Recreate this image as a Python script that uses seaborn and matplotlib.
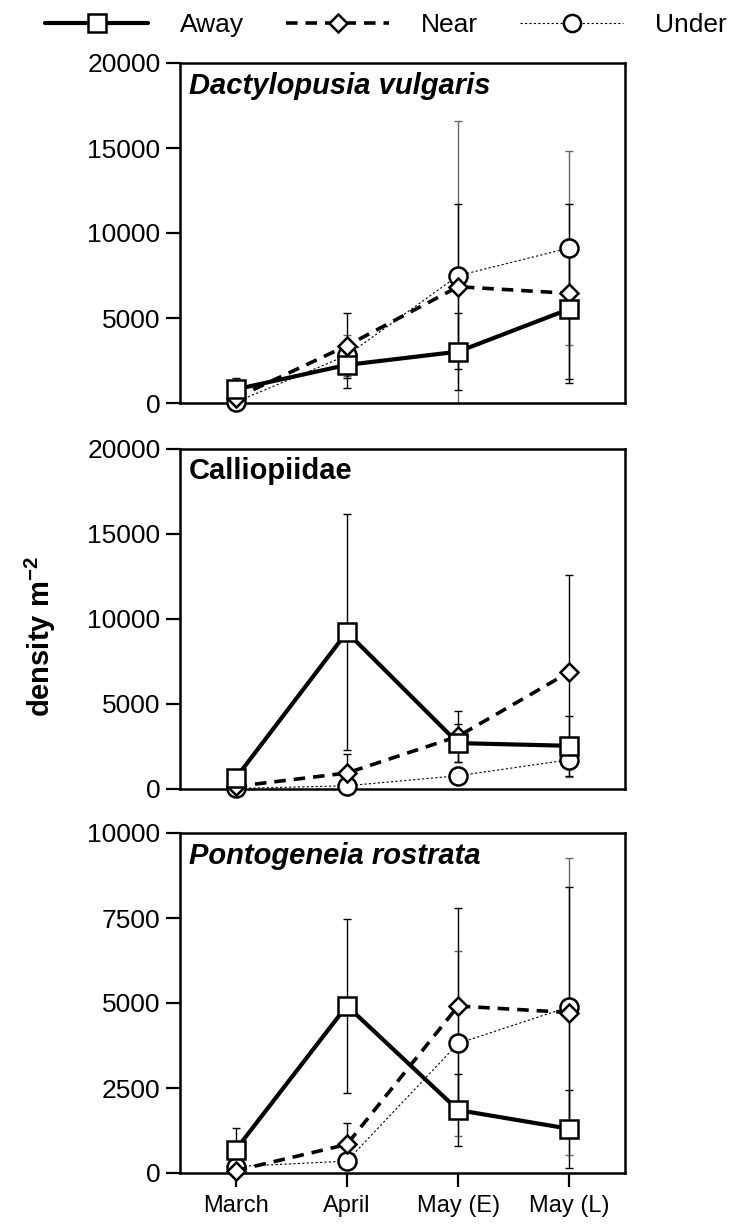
import numpy as np
import pandas as pd
import matplotlib
matplotlib.use("Agg")
import matplotlib.pyplot as plt
import seaborn as sns

## DATA (means and standard errors)
months = ["March", "April", "May (E)", "May (L)"]
treatments = ["Away", "Near", "Under"]

dact_away = [800, 2240, 3020, 5530]
dact_away_se = [650, 1370, 2250, 4100]
dact_near = [300, 3370, 6840, 6450]
dact_near_se = [200, 1900, 4860, 5250]
dact_under = [50, 2800, 7490, 9120]
dact_under_se = [50, 1200, 9080, 5720]

call_away = [630, 9230, 2700, 2540]
call_away_se = [300, 6960, 1100, 1760]
call_near = [150, 940, 3100, 6880]
call_near_se = [100, 1100, 1500, 5700]
call_under = [30, 190, 780, 1720]
call_under_se = [30, 150, 500, 1030]

pont_away = [680, 4920, 1850, 1300]
pont_away_se = [650, 2560, 1060, 1140]
pont_near = [70, 840, 4910, 4720]
pont_near_se = [60, 640, 2870, 3700]
pont_under = [190, 350, 3810, 4890]
pont_under_se = [100, 200, 2730, 4370]

taxa = ["Dactylopusia vulgaris", "Calliopiidae", "Pontogeneia rostrata"]
italic = [True, False, True]
yticks = [[0, 5000, 10000, 15000, 20000],
          [0, 5000, 10000, 15000, 20000],
          [0, 2500, 5000, 7500, 10000]]

panels = [
    {"Away": (dact_away, dact_away_se), "Near": (dact_near, dact_near_se), "Under": (dact_under, dact_under_se)},
    {"Away": (call_away, call_away_se), "Near": (call_near, call_near_se), "Under": (call_under, call_under_se)},
    {"Away": (pont_away, pont_away_se), "Near": (pont_near, pont_near_se), "Under": (pont_under, pont_under_se)},
]

## STYLE
sns.set_style("ticks")
plt.rcParams["font.family"] = ["Liberation Sans", "DejaVu Sans"]
plt.rcParams["mathtext.fontset"] = "custom"
plt.rcParams["mathtext.rm"] = "Liberation Sans"
plt.rcParams["mathtext.bf"] = "Liberation Sans:bold"
for k in ["text.color", "axes.labelcolor", "xtick.color", "ytick.color", "axes.edgecolor"]:
    plt.rcParams[k] = "black"

styles = {
    "Away": dict(lw=3.0, ls="-", marker="s", ms=13, zorder=5),
    "Near": dict(lw=2.6, ls=(0, (3.2, 2.2)), marker="D", ms=9.5, zorder=4),
    "Under": dict(lw=0.8, ls=(0, (2, 2)), marker="o", ms=13, zorder=3),
}
ecolors = {"Away": "black", "Near": "black", "Under": "#666666"}

fig = plt.figure(figsize=(7.43, 12.26), dpi=100)
left, width = 180 / 743, 445 / 743
tops = [63, 449, 833]
height = 340 / 1226
axes = [fig.add_axes([left, 1 - (t + 340) / 1226, width, height]) for t in tops]

x = np.arange(len(months))
for i, ax in enumerate(axes):
    rows = []
    for t in treatments:
        vals, se = panels[i][t]
        for m, v, s in zip(x, vals, se):
            rows.append({"pos": m, "treatment": t, "density": v, "se": s})
    df = pd.DataFrame(rows)

    for t in ["Under", "Near", "Away"]:
        d = df[df.treatment == t]
        ax.errorbar(d.pos, d.density, yerr=d.se, fmt="none", ecolor=ecolors[t],
                    elinewidth=1.0, capsize=3, capthick=1.0, zorder=1)
        st = styles[t]
        sns.lineplot(data=d, x="pos", y="density", ax=ax, color="black",
                     lw=st["lw"], linestyle=st["ls"], marker=st["marker"],
                     markersize=st["ms"], markerfacecolor="white",
                     markeredgecolor="black", markeredgewidth=1.8,
                     zorder=st["zorder"], clip_on=False, label=t, sort=False,
                     errorbar=None)
    if ax.get_legend():
        ax.get_legend().remove()

    ax.set_xlim(-0.5, 3.5)
    ax.set_ylim(yticks[i][0], yticks[i][-1])
    ax.set_yticks(yticks[i])
    ax.set_xlabel("")
    ax.set_ylabel("")
    ax.tick_params(axis="y", direction="out", length=10, width=1.6, labelsize=19, pad=4)
    if i < 2:
        ax.set_xticks([])
    else:
        ax.set_xticks(x)
        ax.set_xticklabels(months)
        ax.tick_params(axis="x", direction="out", length=10, width=1.6, labelsize=17, pad=6)
    for sp in ax.spines.values():
        sp.set_linewidth(1.8)
        sp.set_visible(True)
    ax.text(0.02, 0.975, taxa[i], transform=ax.transAxes, ha="left", va="top",
            fontsize=21, fontweight="bold", fontstyle="italic" if italic[i] else "normal")

fig.text(40 / 743, 1 - 637 / 1226, r"density m$^{\mathbf{-2}}$", rotation=90,
         ha="center", va="center", fontsize=21, fontweight="bold")

handles, labels = axes[0].get_legend_handles_labels()
order = [labels.index(t) for t in treatments]
fig.legend([handles[j] for j in order], [labels[j] for j in order], loc="center",
           bbox_to_anchor=(386 / 743, 1 - 25 / 1226), ncol=3,
           frameon=False, fontsize=19, handlelength=3.9, handletextpad=1.2,
           columnspacing=1.6, markerscale=0.95, borderpad=0)

fig.savefig("out.png", dpi=100)
